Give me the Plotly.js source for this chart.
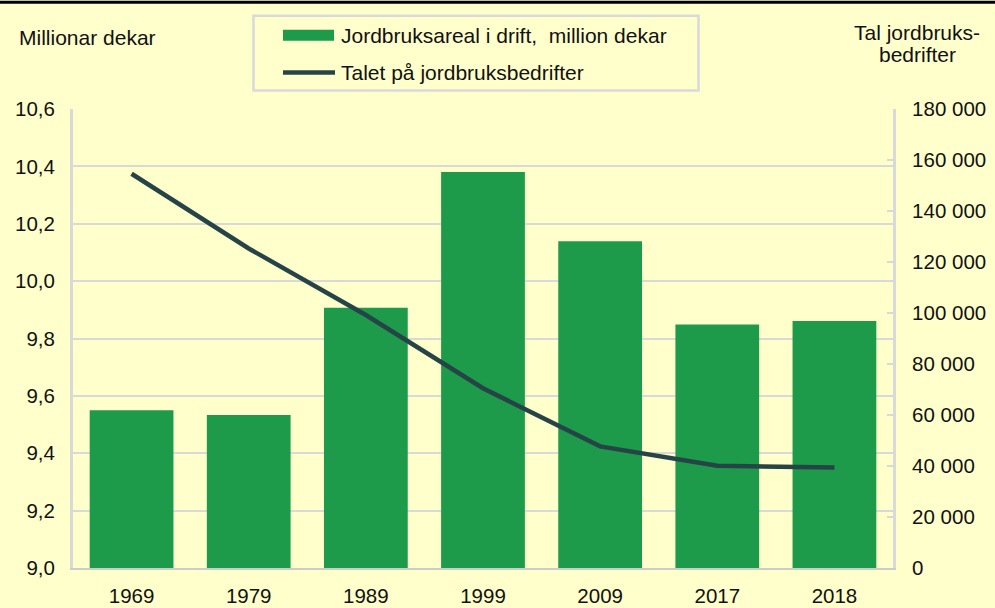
<!DOCTYPE html>
<html>
<head>
<meta charset="utf-8">
<script src="https://cdn.plot.ly/plotly-3.0.1.min.js"></script>
<style>
html,body{margin:0;padding:0;background:#FFFFCC;}
#chart{width:995px;height:608px;}
</style>
</head>
<body>
<div id="chart"></div>
<script>
const years = ["1969","1979","1989","1999","2009","2017","2018"];
const arealMillionDekar = [9.55, 9.533, 9.907, 10.38, 10.139, 9.849, 9.861];
const talBedrifter = [154600, 125300, 99200, 70500, 47700, 40100, 39400];
const leftTicks = [9.0, 9.2, 9.4, 9.6, 9.8, 10.0, 10.2, 10.4, 10.6];
const rightTicks = [0, 20000, 40000, 60000, 80000, 100000, 120000, 140000, 160000, 180000];
const legendLabels = ["Jordbruksareal i drift,\u00a0\u00a0million dekar", "Talet på jordbruksbedrifter"];
const leftTitle = "Millionar dekar";
const rightTitleLines = ["Tal jordbruks-", "bedrifter"];

const BG = "#FFFFCC", GREEN = "#1E9B4A", LINE = "#264447", GRID = "#D9D9D9", TXT = "#111111";
const W = 995, H = 608, L = 73, R = 102, T = 108.5, B = 39.5;
const pw = W - L - R, ph = H - T - B;
const px = x => (x - L) / pw;
const py = y => (H - B - y) / ph;

const traces = [
  {type: "bar", x: years, y: arealMillionDekar, name: legendLabels[0],
   marker: {color: GREEN, line: {width: 0}}, yaxis: "y", hoverinfo: "x+y"},
  {type: "scatter", mode: "lines", x: years, y: talBedrifter, name: legendLabels[1],
   line: {color: LINE, width: 4.5, shape: "linear"}, yaxis: "y2"}
];

const font = {family: "Liberation Sans, Arial, sans-serif", size: 21, color: TXT};
const tfont = {family: "Liberation Sans, Arial, sans-serif", size: 20.5, color: TXT};

const layout = {
  width: W, height: H,
  paper_bgcolor: BG, plot_bgcolor: BG,
  margin: {l: L, r: R, t: T, b: B, pad: 0},
  separators: ", ",
  font: font,
  showlegend: false,
  bargap: 0.285,
  xaxis: {type: "category", showline: true, linecolor: "#CCCCCC", linewidth: 2,
          ticks: "", showgrid: false, tickfont: tfont, ticklabelstandoff: 8},
  yaxis: {range: [9.0, 10.6], tickvals: leftTicks, tickformat: ".1f",
          showgrid: true, gridcolor: GRID, gridwidth: 2, zeroline: false,
          showline: true, linecolor: GRID, linewidth: 3, ticks: "",
          tickfont: tfont, ticklabelstandoff: 11},
  yaxis2: {range: [0, 180000], tickvals: rightTicks, tickformat: ",d",
           overlaying: "y", side: "right", showgrid: false, zeroline: false,
           showline: true, linecolor: GRID, linewidth: 3,
           ticks: "inside", ticklen: 6, tickwidth: 2, tickcolor: GRID,
           tickfont: tfont, ticklabelstandoff: 12},
  shapes: [
    {type: "rect", xref: "paper", yref: "paper", x0: px(0), x1: px(W), y0: py(3), y1: py(0),
     fillcolor: "#000000", line: {width: 0}},
    {type: "rect", xref: "paper", yref: "paper", x0: px(253.5), x1: px(698.5), y0: py(90), y1: py(15),
     fillcolor: BG, line: {color: GRID, width: 2.5}},
    {type: "rect", xref: "paper", yref: "paper", x0: px(283), x1: px(334), y0: py(40), y1: py(29),
     fillcolor: GREEN, line: {width: 0}},
    {type: "line", xref: "paper", yref: "paper", x0: px(283), x1: px(335), y0: py(72), y1: py(72),
     line: {color: LINE, width: 4.5}}
  ],
  annotations: [
    {xref: "paper", yref: "paper", x: px(17), y: py(37), xanchor: "left", yanchor: "middle",
     text: leftTitle, showarrow: false, font: font},
    {xref: "paper", yref: "paper", x: px(917.5), y: py(32), xanchor: "center", yanchor: "middle",
     text: rightTitleLines[0], showarrow: false, font: font},
    {xref: "paper", yref: "paper", x: px(917.5), y: py(54), xanchor: "center", yanchor: "middle",
     text: rightTitleLines[1], showarrow: false, font: font},
    {xref: "paper", yref: "paper", x: px(339), y: py(34.5), xanchor: "left", yanchor: "middle",
     text: legendLabels[0], showarrow: false, font: font},
    {xref: "paper", yref: "paper", x: px(339), y: py(72), xanchor: "left", yanchor: "middle",
     text: legendLabels[1], showarrow: false, font: font}
  ]
};

Plotly.newPlot("chart", traces, layout, {displayModeBar: false, staticPlot: true});
</script>
</body>
</html>
